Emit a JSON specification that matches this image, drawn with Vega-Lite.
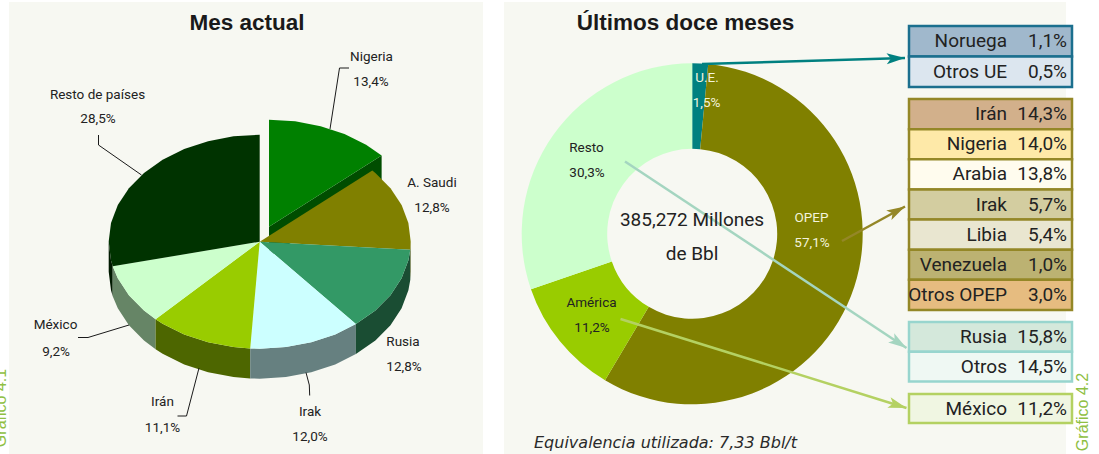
{
"$schema":"https://vega.github.io/schema/vega-lite/v6.json",
"width":1099,"height":454,"padding":0,"autosize":{"type":"none"},
"background":"#ffffff",
"view":{"stroke":null},
"datasets":{
"tabla":[
{"grupo":"UE","nombre":"Noruega","valor":"1,1%"},
{"grupo":"UE","nombre":"Otros UE","valor":"0,5%"},
{"grupo":"OPEP","nombre":"Irán","valor":"14,3%"},
{"grupo":"OPEP","nombre":"Nigeria","valor":"14,0%"},
{"grupo":"OPEP","nombre":"Arabia","valor":"13,8%"},
{"grupo":"OPEP","nombre":"Irak","valor":"5,7%"},
{"grupo":"OPEP","nombre":"Libia","valor":"5,4%"},
{"grupo":"OPEP","nombre":"Venezuela","valor":"1,0%"},
{"grupo":"OPEP","nombre":"Otros OPEP","valor":"3,0%"},
{"grupo":"Resto","nombre":"Rusia","valor":"15,8%"},
{"grupo":"Resto","nombre":"Otros","valor":"14,5%"},
{"grupo":"América","nombre":"México","valor":"11,2%"}
],
"anillo":[
{"zona":"U.E.","cuota":1.5,"orden":1},
{"zona":"OPEP","cuota":57.1,"orden":2},
{"zona":"América","cuota":11.2,"orden":3},
{"zona":"Resto","cuota":30.3,"orden":4}
],
"oscuras":[
{"t":"Nigeria","x":371.5,"y":56.5},{"t":"13,4%","x":371,"y":81.5},
{"t":"Resto de países","x":97.5,"y":95},{"t":"28,5%","x":98,"y":119},
{"t":"A. Saudi","x":432,"y":183},{"t":"12,8%","x":432,"y":208},
{"t":"Rusia","x":403,"y":341.5},{"t":"12,8%","x":404,"y":366.5},
{"t":"Irak","x":310,"y":412},{"t":"12,0%","x":310,"y":437},
{"t":"Irán","x":162.5,"y":402},{"t":"11,1%","x":162.5,"y":428},
{"t":"México","x":55.5,"y":325},{"t":"9,2%","x":56,"y":351.5},
{"t":"Resto","x":586.5,"y":147.5},{"t":"30,3%","x":587,"y":172.5},
{"t":"América","x":591.5,"y":302.5},{"t":"11,2%","x":592,"y":327.5}
],
"claras":[
{"t":"U.E.","x":707,"y":78},{"t":"1,5%","x":706.5,"y":103},
{"t":"OPEP","x":811.5,"y":217.5},{"t":"57,1%","x":812,"y":242.5}
],
"guias":[
{"l":"Nigeria","i":0,"x":349,"y":68},{"l":"Nigeria","i":1,"x":339.5,"y":68},{"l":"Nigeria","i":2,"x":330,"y":129},
{"l":"Resto","i":0,"x":98.5,"y":135},{"l":"Resto","i":1,"x":98.5,"y":145},{"l":"Resto","i":2,"x":141.5,"y":175},
{"l":"México","i":0,"x":78,"y":337.5},{"l":"México","i":1,"x":88,"y":337.5},{"l":"México","i":2,"x":129,"y":325},
{"l":"Irán","i":0,"x":177.5,"y":416},{"l":"Irán","i":1,"x":186.5,"y":416},{"l":"Irán","i":2,"x":199,"y":368},
{"l":"Irak","i":0,"x":306,"y":372.5},{"l":"Irak","i":1,"x":309.3,"y":385},{"l":"Irak","i":2,"x":309.7,"y":395.5}
],
"flechas":[
{"f":"UE","x":702,"y":64,"x2":905,"y2":58,"giro":88},
{"f":"OPEP","x":842,"y":241,"x2":905,"y2":206.5,"giro":61.6},
{"f":"Resto","x":625,"y":161.5,"x2":906.5,"y2":348,"giro":123.4},
{"f":"América","x":620.5,"y":319,"x2":906.5,"y2":408,"giro":107.3}
],
"tarta":[
{"type":"Feature","properties":{"cara":"Resto lateral"},"geometry":{"type":"Polygon","coordinates":[[[-147,24.6],[-148.7,18.6],[-151,0],[-151,30],[-148.7,48.6],[-147,54.6],[-147,24.6]]]}},
{"type":"Feature","properties":{"cara":"México lateral"},"geometry":{"type":"Polygon","coordinates":[[[-104.1,77.5],[-115.7,68.8],[-130.8,53.5],[-141.9,36.6],[-147,24.6],[-147,54.6],[-141.9,66.6],[-130.8,83.5],[-115.7,98.8],[-104.1,107.5],[-104.1,77.5]]]}},
{"type":"Feature","properties":{"cara":"Irán lateral"},"geometry":{"type":"Polygon","coordinates":[[[-9.5,106.8],[-26.2,105.4],[-51.6,100.5],[-75.5,92.7],[-97.1,82],[-104.1,77.5],[-104.1,107.5],[-97.1,112],[-75.5,122.7],[-51.6,130.5],[-26.2,135.4],[-9.5,136.8],[-9.5,106.8]]]}},
{"type":"Feature","properties":{"cara":"Irak lateral"},"geometry":{"type":"Polygon","coordinates":[[[96.2,82.4],[75.5,92.7],[51.6,100.5],[26.2,105.4],[0,107],[-9.5,106.8],[-9.5,136.8],[0,137],[26.2,135.4],[51.6,130.5],[75.5,122.7],[96.2,112.4],[96.2,82.4]]]}},
{"type":"Feature","properties":{"cara":"Rusia lateral"},"geometry":{"type":"Polygon","coordinates":[[[150.6,8],[148.7,18.6],[141.9,36.6],[130.8,53.5],[115.7,68.8],[96.2,82.4],[96.2,112.4],[115.7,98.8],[130.8,83.5],[141.9,66.6],[148.7,48.6],[150.6,38],[150.6,8]]]}},
{"type":"Feature","properties":{"cara":"Saudi lateral"},"geometry":{"type":"Polygon","coordinates":[[[151,0],[150.6,8],[150.6,38],[151,30],[151,0]]]}},
{"type":"Feature","properties":{"cara":"Nigeria lateral"},"geometry":{"type":"Polygon","coordinates":[[[9.3,-15],[121.9,-86.3],[121.9,-56.3],[9.3,15],[9.3,-15]]]}},
{"type":"Feature","properties":{"cara":"Nigeria","cuota":13.4},"geometry":{"type":"Polygon","coordinates":[[[9.3,-15],[121.9,-86.3],[106.4,-97],[84.8,-107.7],[60.9,-115.5],[35.5,-120.4],[9.3,-122],[9.3,-15]]]}},
{"type":"Feature","properties":{"cara":"A. Saudi","cuota":12.8},"geometry":{"type":"Polygon","coordinates":[[[0,0],[112.6,-71.3],[115.7,-68.8],[130.8,-53.5],[141.9,-36.6],[148.7,-18.6],[151,0],[150.6,8],[0,0]]]}},
{"type":"Feature","properties":{"cara":"Rusia","cuota":12.8},"geometry":{"type":"Polygon","coordinates":[[[0,0],[150.6,8],[148.7,18.6],[141.9,36.6],[130.8,53.5],[115.7,68.8],[96.2,82.4],[0,0]]]}},
{"type":"Feature","properties":{"cara":"Irak","cuota":12.0},"geometry":{"type":"Polygon","coordinates":[[[0,0],[96.2,82.4],[75.5,92.7],[51.6,100.5],[26.2,105.4],[0,107],[-9.5,106.8],[0,0]]]}},
{"type":"Feature","properties":{"cara":"Irán","cuota":11.1},"geometry":{"type":"Polygon","coordinates":[[[0,0],[-9.5,106.8],[-26.2,105.4],[-51.6,100.5],[-75.5,92.7],[-97.1,82],[-104.1,77.5],[0,0]]]}},
{"type":"Feature","properties":{"cara":"México","cuota":9.2},"geometry":{"type":"Polygon","coordinates":[[[0,0],[-104.1,77.5],[-115.7,68.8],[-130.8,53.5],[-141.9,36.6],[-147,24.6],[0,0]]]}},
{"type":"Feature","properties":{"cara":"Resto de países","cuota":28.5},"geometry":{"type":"Polygon","coordinates":[[[0,0],[-147,24.6],[-148.7,18.6],[-151,0],[-148.7,-18.6],[-141.9,-36.6],[-130.8,-53.5],[-115.7,-68.8],[-97.1,-82],[-75.5,-92.7],[-51.6,-100.5],[-26.2,-105.4],[0,-107],[0,0]]]}}
]
},
"resolve":{"scale":{"y":"independent","fill":"independent","stroke":"independent"}},
"layer":[
{"resolve":{"scale":{"fill":"independent"}},
 "layer":[
{"data":{"values":[{"panel":"Mes actual","a":9,"b":483},{"panel":"Últimos doce meses","a":504,"b":1066}]},
 "mark":{"type":"rect","fill":"#f7f8f2"},
 "encoding":{"x":{"field":"a","type":"quantitative","scale":{"domain":[0,1099]},"axis":null},"x2":{"field":"b"},"y":{"datum":2,"scale":{"domain":[454,0]},"axis":null},"y2":{"datum":454}}},
{"data":{"name":"tarta"},
 "projection":{"type":"identity","scale":1,"translate":[259.7,241.7]},
 "mark":{"type":"geoshape","strokeWidth":0},
 "encoding":{"fill":{"field":"properties.cara","type":"nominal","legend":null,"scale":{"domain":["Resto lateral","México lateral","Irán lateral","Irak lateral","Rusia lateral","Saudi lateral","Nigeria lateral","Nigeria","A. Saudi","Rusia","Irak","Irán","México","Resto de países"],"range":["#001a00","#668566","#4d6600","#668080","#1a4d33","#4d4d00","#004d00","#008000","#808000","#339966","#ccffff","#99cc00","#ccffcc","#003300"]}}}},
{"data":{"name":"anillo"},
 "mark":{"type":"arc","radius":170.5,"radius2":85},
 "encoding":{"x":{"datum":692.2,"scale":{"domain":[0,1099]},"axis":null},"y":{"datum":233.8,"scale":{"domain":[454,0]},"axis":null},
 "theta":{"field":"cuota","type":"quantitative","stack":true},
 "order":{"field":"orden"},
 "fill":{"field":"zona","type":"nominal","legend":null,"scale":{"domain":["U.E.","OPEP","América","Resto"],"range":["#008080","#808000","#99cc00","#ccffcc"]}}}},
{"data":{"name":"guias"},
 "mark":{"type":"line","stroke":"#1a1a1a","strokeWidth":1},
 "encoding":{"x":{"field":"x","type":"quantitative","scale":{"domain":[0,1099]},"axis":null},"y":{"field":"y","type":"quantitative","scale":{"domain":[454,0]},"axis":null},"detail":{"field":"l"},"order":{"field":"i"}}},
{"data":{"name":"flechas"},
 "mark":{"type":"rule","strokeWidth":2.5},
 "encoding":{"x":{"field":"x","type":"quantitative","scale":{"domain":[0,1099]},"axis":null},"y":{"field":"y","type":"quantitative","scale":{"domain":[454,0]},"axis":null},"x2":{"field":"x2"},"y2":{"field":"y2"},
 "stroke":{"field":"f","type":"nominal","legend":null,"scale":{"domain":["UE","OPEP","Resto","América"],"range":["#008080","#948727","#a4d5c0","#b4d162"]}}}},
{"data":{"name":"flechas"},
 "mark":{"type":"point","filled":true,"opacity":1,"size":600,"strokeWidth":0,"shape":"M0,0L0.45,1.5L0,1.15L-0.45,1.5Z"},
 "encoding":{"x":{"field":"x2","type":"quantitative","scale":{"domain":[0,1099]},"axis":null},"y":{"field":"y2","type":"quantitative","scale":{"domain":[454,0]},"axis":null},
 "angle":{"field":"giro","type":"quantitative","scale":null},
 "fill":{"field":"f","type":"nominal","legend":null,"scale":{"domain":["UE","OPEP","Resto","América"],"range":["#008080","#948727","#a4d5c0","#b4d162"]}}}},
{"data":{"name":"oscuras"},
 "mark":{"type":"text","font":"Roboto","fontSize":13.5,"fill":"#222222","align":"center","baseline":"middle"},
 "encoding":{"x":{"field":"x","type":"quantitative","scale":{"domain":[0,1099]},"axis":null},"y":{"field":"y","type":"quantitative","scale":{"domain":[454,0]},"axis":null},"text":{"field":"t"}}},
{"data":{"name":"claras"},
 "mark":{"type":"text","font":"Roboto","fontSize":13.5,"fill":"#f3f3dc","align":"center","baseline":"middle"},
 "encoding":{"x":{"field":"x","type":"quantitative","scale":{"domain":[0,1099]},"axis":null},"y":{"field":"y","type":"quantitative","scale":{"domain":[454,0]},"axis":null},"text":{"field":"t"}}},
{"data":{"values":[{"t":"385,272 Millones","x":692,"y":220},{"t":"de Bbl","x":692,"y":254}]},
 "mark":{"type":"text","font":"Roboto","fontSize":19,"fill":"#222222","align":"center","baseline":"middle"},
 "encoding":{"x":{"field":"x","type":"quantitative","scale":{"domain":[0,1099]},"axis":null},"y":{"field":"y","type":"quantitative","scale":{"domain":[454,0]},"axis":null},"text":{"field":"t"}}},
{"data":{"values":[{"t":"Mes actual","x":247,"y":22.5},{"t":"Últimos doce meses","x":685.5,"y":22.5}]},
 "mark":{"type":"text","font":"Liberation Sans","fontWeight":"bold","fontSize":22.5,"fill":"#1a1a1a","align":"center","baseline":"middle"},
 "encoding":{"x":{"field":"x","type":"quantitative","scale":{"domain":[0,1099]},"axis":null},"y":{"field":"y","type":"quantitative","scale":{"domain":[454,0]},"axis":null},"text":{"field":"t"}}},
{"data":{"values":[{"t":"Equivalencia utilizada: 7,33 Bbl/t","x":534,"y":442.5}]},
 "mark":{"type":"text","font":"DejaVu Sans","fontStyle":"italic","fontSize":16,"fill":"#2a2a2a","align":"left","baseline":"middle"},
 "encoding":{"x":{"field":"x","type":"quantitative","scale":{"domain":[0,1099]},"axis":null},"y":{"field":"y","type":"quantitative","scale":{"domain":[454,0]},"axis":null},"text":{"field":"t"}}},
{"data":{"values":[{"t":"Gráfico 4.1","x":1,"y":408},{"t":"Gráfico 4.2","x":1083,"y":412}]},
 "mark":{"type":"text","font":"Liberation Sans","fontSize":16,"fill":"#8fc043","align":"center","baseline":"middle","angle":270},
 "encoding":{"x":{"field":"x","type":"quantitative","scale":{"domain":[0,1099]},"axis":null},"y":{"field":"y","type":"quantitative","scale":{"domain":[454,0]},"axis":null},"text":{"field":"t"}}}
]},
{"data":{"name":"tabla"},"transform":[{"filter":"datum.grupo==='UE'"}],
 "encoding":{"y":{"field":"nombre","type":"nominal","sort":null,"axis":null,"scale":{"range":[26,87],"paddingInner":0,"paddingOuter":0}}},
 "layer":[
 {"mark":{"type":"bar","stroke":"#1b6f8e","strokeWidth":2.5},"encoding":{"x":{"datum":909,"scale":{"domain":[0,1099]},"axis":null},"x2":{"datum":1072},"fill":{"field":"nombre","type":"nominal","legend":null,"scale":{"domain":["Noruega","Otros UE"],"range":["#a0b8cc","#dce6ef"]}}}},
 {"mark":{"type":"text","font":"Roboto","fontSize":19,"fill":"#222222","align":"right"},"encoding":{"x":{"datum":1007,"scale":{"domain":[0,1099]},"axis":null},"text":{"field":"nombre"}}},
 {"mark":{"type":"text","font":"Roboto","fontSize":19,"fill":"#222222","align":"right"},"encoding":{"x":{"datum":1067,"scale":{"domain":[0,1099]},"axis":null},"text":{"field":"valor"}}}
 ]},
{"data":{"name":"tabla"},"transform":[{"filter":"datum.grupo==='OPEP'"}],
 "encoding":{"y":{"field":"nombre","type":"nominal","sort":null,"axis":null,"scale":{"range":[99,310],"paddingInner":0,"paddingOuter":0}}},
 "layer":[
 {"mark":{"type":"bar","stroke":"#948727","strokeWidth":2.5},"encoding":{"x":{"datum":909,"scale":{"domain":[0,1099]},"axis":null},"x2":{"datum":1072},"fill":{"field":"nombre","type":"nominal","legend":null,"scale":{"domain":["Irán","Nigeria","Arabia","Irak","Libia","Venezuela","Otros OPEP"],"range":["#d2b08b","#fee9a8","#fffcee","#d3cda0","#e9e6d0","#bcb272","#e6bc80"]}}}},
 {"mark":{"type":"text","font":"Roboto","fontSize":19,"fill":"#222222","align":"right"},"encoding":{"x":{"datum":1007,"scale":{"domain":[0,1099]},"axis":null},"text":{"field":"nombre"}}},
 {"mark":{"type":"text","font":"Roboto","fontSize":19,"fill":"#222222","align":"right"},"encoding":{"x":{"datum":1067,"scale":{"domain":[0,1099]},"axis":null},"text":{"field":"valor"}}}
 ]},
{"data":{"name":"tabla"},"transform":[{"filter":"datum.grupo==='Resto'"}],
 "encoding":{"y":{"field":"nombre","type":"nominal","sort":null,"axis":null,"scale":{"range":[322,381.5],"paddingInner":0,"paddingOuter":0}}},
 "layer":[
 {"mark":{"type":"bar","stroke":"#98d5ce","strokeWidth":2.5},"encoding":{"x":{"datum":909,"scale":{"domain":[0,1099]},"axis":null},"x2":{"datum":1072},"fill":{"field":"nombre","type":"nominal","legend":null,"scale":{"domain":["Rusia","Otros"],"range":["#d4e8db","#eff8f3"]}}}},
 {"mark":{"type":"text","font":"Roboto","fontSize":19,"fill":"#222222","align":"right"},"encoding":{"x":{"datum":1007,"scale":{"domain":[0,1099]},"axis":null},"text":{"field":"nombre"}}},
 {"mark":{"type":"text","font":"Roboto","fontSize":19,"fill":"#222222","align":"right"},"encoding":{"x":{"datum":1067,"scale":{"domain":[0,1099]},"axis":null},"text":{"field":"valor"}}}
 ]},
{"data":{"name":"tabla"},"transform":[{"filter":"datum.grupo==='América'"}],
 "encoding":{"y":{"field":"nombre","type":"nominal","sort":null,"axis":null,"scale":{"range":[394,423],"paddingInner":0,"paddingOuter":0}}},
 "layer":[
 {"mark":{"type":"bar","stroke":"#b4d162","strokeWidth":2.5},"encoding":{"x":{"datum":909,"scale":{"domain":[0,1099]},"axis":null},"x2":{"datum":1072},"fill":{"field":"nombre","type":"nominal","legend":null,"scale":{"domain":["México"],"range":["#f0f6e2"]}}}},
 {"mark":{"type":"text","font":"Roboto","fontSize":19,"fill":"#222222","align":"right"},"encoding":{"x":{"datum":1007,"scale":{"domain":[0,1099]},"axis":null},"text":{"field":"nombre"}}},
 {"mark":{"type":"text","font":"Roboto","fontSize":19,"fill":"#222222","align":"right"},"encoding":{"x":{"datum":1067,"scale":{"domain":[0,1099]},"axis":null},"text":{"field":"valor"}}}
 ]}
]
}
